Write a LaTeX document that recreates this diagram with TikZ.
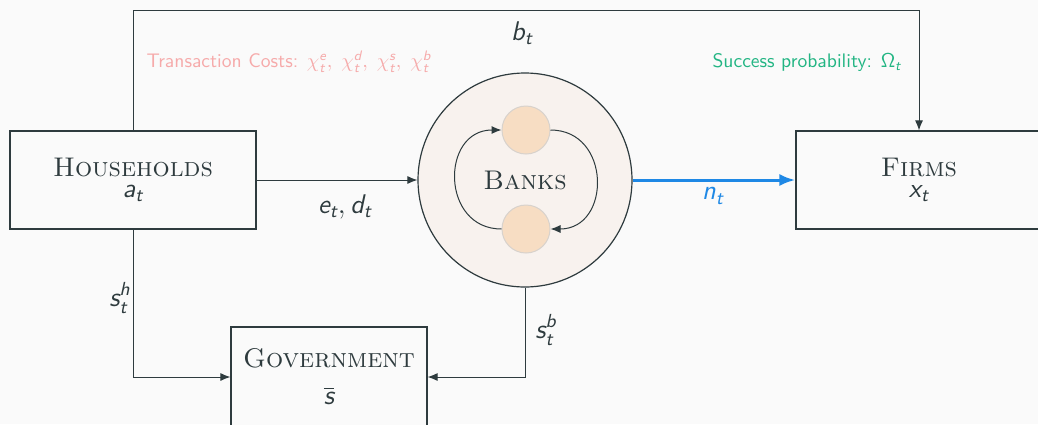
\documentclass[tikz,border=0pt]{standalone}
\usepackage{amsmath}
\usetikzlibrary{arrows.meta}
\definecolor{bg}{HTML}{FAFAFA}
\definecolor{ink}{HTML}{2E3B3E}
\definecolor{pinkc}{HTML}{F6AAAA}
\definecolor{greenc}{HTML}{22B583}
\definecolor{bluec}{HTML}{1E88E5}
\definecolor{peach}{HTML}{F7DDC3}
\definecolor{peachline}{HTML}{D8D2CC}
\definecolor{bankfill}{HTML}{F8F2EE}
\newcommand{\sv}[1]{\text{\normalfont\sffamily\itshape #1}}
\tikzset{
  box/.style={draw=ink, line width=0.6pt, fill=bg, minimum width=123pt, minimum height=49pt, align=center, text=ink,
    font=\fontsize{13.5}{10.5}\selectfont},
  arr/.style={draw=ink, line width=0.5pt, -{Latex[length=5pt,width=4pt]}},
  lbl/.style={text=ink, font=\fontsize{13.5}{16}\selectfont},
  small/.style={font=\sffamily\fontsize{9.8}{11}\selectfont},
  inner/.style={circle, draw=peachline, line width=0.5pt, fill=peach, minimum size=24pt, inner sep=0pt}
}
\begin{document}
\begin{tikzpicture}[x=0.5pt, y=-0.5pt]
\fill[bg] (0,0) rectangle (1038,424);
\useasboundingbox (0,0) rectangle (1038,424);

\node[box] (hh) at (133,180) {\textsc{Households}\\ $\sv{a}_{\sv{t}}$};
\node[box] (fi) at (919,180) {\textsc{Firms}\\ $\sv{x}_{\sv{t}}$};
\node[box, minimum width=98pt, minimum height=50pt] (gov) at (329,377) {\textsc{Government}\\[8pt] $\overline{\sv{s}}$};

\node[circle, draw=ink, line width=0.6pt, fill=bankfill, minimum size=107pt, inner sep=0pt, text=ink,
      font=\fontsize{13.5}{16}\selectfont] (bk) at (525,180) {\textsc{Banks}};
\node[inner] (ct) at (526,130) {};
\node[inner] (cb) at (526,229) {};
\draw[arr] (cb.west) .. controls +(-61,0) and +(-61,0) .. (ct.west);
\draw[arr] (ct.east) .. controls +(61,0) and +(61,0) .. (cb.east);

\coordinate (tl) at (133,10);
\coordinate (tr) at (919,10);
\draw[arr] (hh.north) -- (tl) -- (tr) -- (fi.north);

\draw[arr] (hh.east) -- (bk.west);
\draw[draw=bluec, line width=1.5pt, -{Latex[length=8pt,width=6pt]}] (bk.east) -- (fi.west);

\coordinate (bl) at (133,377);
\coordinate (br) at (525,377);
\draw[arr] (hh.south) -- (bl) -- (gov.west);
\draw[arr] (bk.south) -- (br) -- (gov.east);

\node[lbl] (lb) at (522,33) {$\sv{b}_{\sv{t}}$};
\node[lbl] (led) at (345,207) {$\sv{e}_{\sv{t}}, \sv{d}_{\sv{t}}$};
\node[lbl, text=bluec] (ln) at (713,196) {$\sv{n}_{\sv{t}}$};
\node[lbl] (lsh) at (120,298) {$\sv{s}_{\sv{t}}^{\sv{h}}$};
\node[lbl] (lsb) at (546,330) {$\sv{s}_{\sv{t}}^{\sv{b}}$};

\node[small, text=pinkc] (tc) at (289,62) {Transaction Costs: $\chi_{\sv{t}}^{\sv{e}},\;\chi_{\sv{t}}^{\sv{d}},\;\chi_{\sv{t}}^{\sv{s}},\;\chi_{\sv{t}}^{\sv{b}}$};
\node[small, text=greenc] (sp) at (807,62) {Success probability: $\mathsf{\Omega}_{\sv{t}}$};
\end{tikzpicture}
\end{document}
